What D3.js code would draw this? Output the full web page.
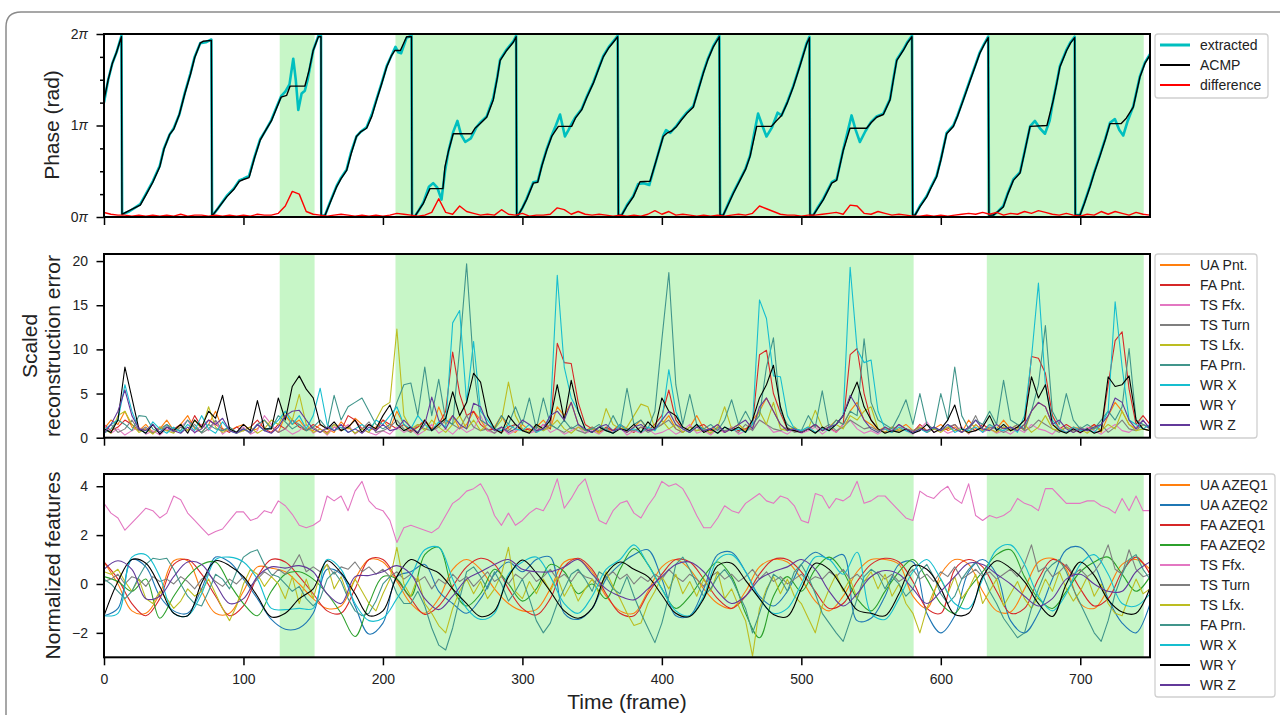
<!DOCTYPE html>
<html>
<head>
<meta charset="utf-8">
<script src="https://cdn.jsdelivr.net/npm/d3@7"></script>
<style>
  body { margin: 0; background: #fff; }
  text { font-family: "Liberation Sans", Arial, sans-serif; fill: #222; }
</style>
</head>
<body>
<div id="app"></div>
<script>
// ---- data ----
let xTicks = [0, 100, 200, 300, 400, 500, 600, 700];
let shadedSpans = [[126, 151], [209, 580.5], [633, 745.5]];

// phase in units of pi, [frame, phase]
let acmpPhase = [[0,1.28],[3,1.5],[6,1.68],[9,1.8],[12.5,1.97],[12.9,0.03],[18,0.07],[22,0.1],[26,0.13],[30,0.24],[35,0.38],[40,0.55],[43,0.74],[47,0.9],[50,0.96],[54,1.12],[58,1.35],[62,1.56],[65,1.74],[69,1.9],[71,1.92],[77,1.93],[77.4,0.01],
  [82,0.1],[88,0.22],[93,0.3],[97,0.39],[100,0.41],[104,0.43],[108,0.65],[112,0.84],[116,0.95],[120,1.05],[124,1.2],[127,1.31],[131,1.33],[133.4,1.43],[144,1.43],[147,1.6],[150,1.82],[153.7,1.97],[155.6,1.97],[155.7,0.01],
  [158.5,0.02],[162,0.15],[166.8,0.33],[170,0.42],[174,0.51],[177,0.68],[181,0.88],[184,0.93],[188.3,0.97],[192,1.1],[195.5,1.28],[199,1.45],[202.7,1.64],[206,1.76],[208.6,1.82],[212.5,1.82],[217,1.97],[220.5,1.97],[220.8,0.0],
  [223,0.01],[226,0.08],[229,0.15],[233.7,0.31],[243,0.31],[244.5,0.55],[247,0.72],[250.4,0.91],[263.6,0.91],[266,0.97],[269.6,1.02],[274.4,1.09],[279.1,1.28],[282,1.52],[284,1.71],[288.7,1.82],[293.5,1.91],[295.5,1.97],[295.9,0.02],
  [297,0.02],[300,0.1],[303,0.19],[307.8,0.37],[311,0.38],[314,0.56],[317.4,0.73],[321,0.88],[325.8,0.99],[335.3,0.99],[338,1.08],[342.5,1.17],[346,1.3],[350.8,1.46],[355,1.63],[358,1.75],[362,1.85],[365.2,1.91],[368.3,1.97],[368.8,0.02],
  [371.2,0.02],[375,0.12],[379.5,0.22],[384.3,0.385],[391.5,0.39],[396,0.62],[401,0.88],[404,0.92],[407,0.94],[410.6,0.99],[414,1.06],[417.8,1.13],[422.5,1.2],[426,1.38],[429.7,1.57],[433,1.72],[436.9,1.86],[441.2,1.97],[441.7,0.02],
  [444,0.02],[448,0.15],[451.3,0.26],[456,0.4],[460,0.52],[463.2,0.66],[468,0.99],[478.6,0.99],[482,1.05],[485.8,1.11],[490,1.25],[494.2,1.42],[499,1.65],[503.8,1.89],[505.8,1.96],[506.2,0.02],
  [508.6,0.02],[512,0.1],[515.8,0.19],[521.8,0.37],[525.3,0.4],[530.1,0.73],[534.9,0.97],[546.8,0.97],[550,1.03],[554,1.09],[558.8,1.12],[563.6,1.28],[566,1.5],[568.4,1.71],[573.1,1.82],[576,1.9],[579.3,1.97],[579.8,0.02],
  [581.5,0.02],[585,0.11],[589.9,0.22],[593,0.32],[597,0.44],[600,0.62],[604.2,0.91],[609,0.99],[612,1.1],[616.2,1.28],[621,1.49],[625,1.66],[628,1.79],[631,1.88],[634,1.96],[634.5,0.02],
  [637.6,0.02],[641,0.06],[644.8,0.11],[648,0.25],[652,0.4],[656.8,0.48],[660,0.7],[664,0.99],[676.1,1.0],[680.7,1.28],[683,1.45],[685.4,1.64],[690.2,1.82],[693,1.9],[696,1.96],[696.4,0.02],
  [699.8,0.02],[703,0.15],[707,0.33],[710,0.48],[714,0.66],[718,0.85],[721.3,1.02],[729.2,1.02],[733,1.08],[738,1.2],[742.8,1.53],[746.4,1.68],[750,1.77]];

let extractedPhase = [[0,1.25],[3,1.5],[6,1.68],[9,1.8],[12.5,1.98],[13,0.03],[18,0.06],[22,0.1],[26,0.14],[30,0.25],[35,0.39],[40,0.56],[43,0.75],[47,0.9],[50,0.97],[54,1.12],[58,1.36],[62,1.57],[65,1.75],[69,1.9],[73,1.91],[77,1.94],[77.5,0.01],
  [82,0.1],[88,0.23],[93,0.31],[97,0.4],[100,0.42],[104,0.45],[108,0.66],[112,0.85],[116,0.95],[120,1.06],[124,1.21],[127,1.32],[130,1.37],[133,1.45],[135.7,1.73],[137.5,1.5],[139.3,1.17],[141.7,1.35],[144,1.38],[146,1.5],[150,1.82],[153.7,1.98],[155.6,1.98],[155.8,0.01],
  [158.5,0.02],[162,0.16],[166.8,0.34],[170,0.43],[174,0.52],[177,0.7],[181,0.88],[184,0.93],[188.3,0.98],[192,1.12],[195.5,1.29],[199,1.46],[202.7,1.65],[206,1.76],[209,1.86],[211,1.8],[213,1.79],[217,1.96],[220.5,1.98],[220.9,0.0],
  [223,0.01],[226,0.08],[229,0.16],[233,0.33],[236,0.37],[239,0.32],[242,0.19],[244.5,0.5],[247,0.72],[250.4,0.93],[253.4,1.05],[256,0.9],[259,0.82],[263,0.86],[267,0.98],[269.6,1.03],[274.4,1.1],[279.1,1.3],[282,1.53],[284,1.72],[288.7,1.83],[293.5,1.92],[295.5,1.98],[296,0.02],
  [297,0.02],[300,0.1],[303,0.2],[307.8,0.38],[311,0.39],[314,0.57],[317.4,0.74],[321,0.89],[324,1.0],[327,1.12],[330.5,0.88],[333,0.95],[336,1.04],[338,1.09],[342.5,1.18],[346,1.31],[350.8,1.47],[355,1.64],[358,1.76],[362,1.86],[365.2,1.92],[368.3,1.98],[368.9,0.02],
  [371.2,0.02],[375,0.13],[379.5,0.23],[383,0.36],[387,0.37],[391,0.35],[396,0.62],[401,0.89],[403,0.95],[406,0.92],[410.6,1.0],[414,1.07],[417.8,1.14],[422.5,1.21],[426,1.39],[429.7,1.58],[433,1.73],[436.9,1.87],[441.2,1.98],[441.8,0.02],
  [444,0.02],[448,0.16],[451.3,0.27],[456,0.41],[460,0.53],[463.2,0.67],[466,0.9],[469,1.13],[472,1.0],[475,0.88],[479,0.98],[483,1.14],[485.8,1.11],[490,1.26],[494.2,1.43],[499,1.66],[503.8,1.9],[505.8,1.97],[506.3,0.02],
  [508.6,0.02],[512,0.11],[515.8,0.2],[521.8,0.38],[525.3,0.41],[530.1,0.74],[533,0.92],[536,1.11],[539,0.95],[542,0.82],[546,0.94],[550,1.04],[554,1.1],[558.8,1.13],[563.6,1.29],[566,1.51],[568.4,1.72],[573.1,1.83],[576,1.91],[579.3,1.98],[579.9,0.02],
  [581.5,0.02],[585,0.12],[589.9,0.23],[593,0.33],[597,0.45],[600,0.63],[604.2,0.92],[609,1.0],[612,1.11],[616.2,1.29],[621,1.5],[625,1.67],[628,1.8],[631,1.89],[634,1.97],[634.6,0.02],
  [637.6,0.02],[641,0.06],[644.8,0.12],[648,0.26],[652,0.41],[656.8,0.49],[660,0.71],[664,0.99],[667.5,1.05],[671,0.97],[674.7,0.91],[678,1.05],[680.7,1.29],[683,1.46],[685.4,1.65],[690.2,1.83],[693,1.91],[696,1.97],[696.5,0.02],
  [699.8,0.02],[703,0.16],[707,0.34],[710,0.49],[714,0.67],[718,0.86],[721.3,1.03],[724.8,1.07],[728,0.95],[730.8,0.89],[734,1.05],[738,1.21],[742.8,1.54],[746.4,1.69],[750,1.78]];

// every 5 frames, units of pi
let phaseDiff = [0.05,0.03,0.02,0.02,0.01,0.02,0.01,0.02,0.01,0.02, 0.01,0.03,0.01,0.02,0.02,0.01,0.02,0.01,0.02,0.01,
  0.02,0.01,0.03,0.02,0.02,0.04,0.12,0.28,0.25,0.06, 0.03,0.02,0.01,0.02,0.03,0.02,0.01,0.02,0.01,0.02,
  0.01,0.02,0.04,0.03,0.02,0.01,0.02,0.05,0.2,0.05, 0.03,0.12,0.06,0.04,0.02,0.03,0.02,0.08,0.03,0.02,
  0.04,0.01,0.02,0.02,0.03,0.1,0.08,0.03,0.06,0.03, 0.02,0.03,0.02,0.01,0.02,0.01,0.02,0.01,0.03,0.07,
  0.03,0.06,0.02,0.03,0.02,0.01,0.02,0.01,0.02,0.01, 0.02,0.03,0.02,0.04,0.12,0.09,0.06,0.03,0.02,0.02,
  0.01,0.02,0.02,0.03,0.04,0.05,0.03,0.13,0.12,0.04, 0.03,0.06,0.04,0.02,0.03,0.02,0.01,0.01,0.02,0.01,
  0.02,0.01,0.02,0.03,0.04,0.03,0.05,0.03,0.05,0.02, 0.04,0.03,0.06,0.04,0.07,0.05,0.03,0.02,0.04,0.02,
  0.01,0.03,0.02,0.06,0.03,0.06,0.04,0.02,0.05,0.03, 0.02];

// scaled reconstruction error, every 5 frames
let errUAPnt = [1.0,2.0,1.5,3.0,1.2,0.8,1.5,0.6,1.0,2.0, 0.8,1.5,2.5,1.0,0.6,1.5,3.0,1.0,0.8,1.2,
  1.5,0.8,1.0,2.0,1.2,0.6,2.5,1.5,2.0,1.0, 0.8,1.5,1.0,0.6,1.8,1.0,2.2,1.5,0.8,1.2,
  2.0,1.0,3.0,1.5,0.6,1.2,2.0,0.8,3.5,1.5, 2.5,1.0,1.5,3.0,2.0,0.8,1.2,2.5,1.0,0.6,
  1.5,0.8,1.2,2.0,1.0,3.5,2.5,4.0,1.5,0.8, 1.2,0.6,1.0,0.8,1.5,0.6,1.2,2.0,0.8,1.0,
  1.5,2.5,1.0,0.6,1.2,2.5,1.0,0.8,1.5,0.6, 1.0,1.5,0.8,2.0,3.0,4.5,3.0,1.5,0.8,1.2,
  0.6,1.0,1.5,0.8,1.2,2.0,1.5,3.0,4.0,2.0, 1.5,0.8,1.2,0.6,1.0,1.5,0.8,1.2,0.6,1.0,
  1.5,0.8,1.2,0.6,2.0,1.0,0.8,1.5,1.0,2.0, 1.0,1.5,0.8,3.0,4.0,3.5,1.5,1.0,0.6,1.2,
  1.0,0.8,1.5,0.6,2.5,4.0,3.0,1.5,1.0,1.5, 1.0];
let errFAPnt = [1.5,0.8,1.2,2.0,1.5,0.8,1.0,0.5,1.2,0.8, 1.0,1.5,0.8,2.5,1.2,2.0,1.5,1.0,0.6,1.2,
  0.8,1.2,2.0,1.0,0.6,1.5,1.0,2.0,1.2,0.8, 1.5,1.0,0.6,1.2,0.8,2.5,2.0,1.0,1.5,0.8,
  2.0,1.5,1.0,1.5,0.8,1.2,2.0,1.0,1.5,3.0, 9.7,5.0,2.5,3.0,1.5,0.8,1.0,0.6,1.2,1.5,
  0.8,1.0,0.6,1.5,1.0,10.7,8.5,8.4,4.0,1.5, 1.0,0.6,1.2,0.8,1.5,1.0,0.6,1.2,0.8,1.5,
  2.5,5.4,2.0,1.0,0.6,1.2,1.5,0.8,1.0,0.6, 1.2,0.8,1.0,1.5,9.4,9.9,5.0,2.8,1.0,0.8,
  0.6,1.0,1.5,0.8,1.2,0.6,1.5,9.4,10.1,5.0, 2.0,1.0,0.6,1.2,0.8,1.0,0.6,1.5,0.8,1.2,
  0.8,1.0,1.5,0.6,1.2,0.8,1.5,1.0,0.6,1.2, 0.8,1.2,1.0,9.2,9.0,7.3,2.5,1.0,1.5,1.0,
  0.8,1.0,1.5,0.8,6.0,11.0,12.0,5.5,1.5,2.5, 1.5];
let errTSFfx = [1.5,0.5,1.0,0.3,0.8,1.2,0.4,0.8,0.3,1.0, 0.6,1.2,2.0,0.5,1.5,0.8,1.8,0.4,1.0,0.6,
  1.2,0.4,0.8,2.5,1.5,0.6,1.0,0.4,0.8,1.5, 0.5,1.0,0.3,1.2,0.8,1.5,0.4,1.0,0.6,0.3,
  0.8,0.4,1.2,0.6,1.0,0.3,0.8,1.5,0.5,1.0, 0.4,1.2,0.6,1.0,2.5,0.8,0.5,1.2,0.4,0.8,
  1.0,0.5,0.8,1.5,0.6,1.0,0.4,0.8,1.2,0.5, 0.8,0.4,1.0,0.6,1.2,0.3,0.8,0.5,1.0,0.4,
  0.6,1.0,0.4,0.8,1.5,0.5,0.8,0.3,1.0,0.6, 1.2,0.4,0.8,1.0,2.0,1.5,0.6,0.8,0.4,1.0,
  0.5,0.8,1.2,0.4,1.0,0.6,1.5,2.0,1.0,0.5, 0.8,0.4,1.0,0.6,1.5,0.8,0.4,1.0,1.8,0.6,
  1.0,0.5,0.8,1.2,0.4,1.5,0.6,1.0,0.5,0.8, 0.4,1.0,0.6,1.5,1.0,0.8,0.4,1.2,0.6,1.0,
  0.5,1.2,0.8,0.4,1.0,1.5,0.8,0.6,1.2,2.0, 1.0];
let errTSTurn = [0.8,1.5,0.6,1.0,2.0,0.8,1.2,0.5,1.0,1.5, 0.6,1.2,0.8,1.5,0.5,1.0,2.0,0.8,1.2,0.6,
  1.0,0.5,1.5,0.8,1.2,0.6,1.0,2.0,1.5,0.8, 1.2,0.6,1.0,1.5,0.8,1.2,0.5,1.0,1.8,0.6,
  0.8,1.2,2.0,1.0,0.6,1.5,1.0,0.8,1.2,2.0, 1.5,1.0,2.5,1.2,0.8,1.0,0.5,1.2,0.8,1.5,
  1.0,0.6,1.2,0.8,1.5,1.0,0.6,1.2,0.8,0.5, 1.2,0.8,1.0,0.5,1.5,1.0,0.8,1.2,0.6,1.0,
  1.5,2.0,1.0,0.6,1.2,0.8,1.0,0.5,1.2,0.8, 1.0,0.6,1.5,0.8,2.0,1.5,1.0,0.8,1.2,0.6,
  0.8,1.2,0.6,1.0,1.5,0.8,1.2,2.0,1.5,1.0, 1.2,0.8,1.0,0.6,1.5,1.0,0.8,1.2,0.6,1.0,
  0.8,1.2,1.5,0.6,1.0,2.5,0.8,1.2,1.0,0.6, 1.0,1.5,0.8,1.2,2.0,1.5,1.0,0.6,1.2,0.8,
  1.2,0.8,1.0,1.5,0.6,1.2,2.0,1.0,0.8,1.5, 1.2];
let errTSLfx = [1.0,0.5,2.5,3.0,1.5,0.6,1.0,0.4,1.2,0.8, 0.5,1.5,0.8,2.0,1.0,3.5,1.2,0.6,1.0,0.5,
  0.8,1.2,0.5,1.0,2.0,1.5,3.0,2.0,4.9,1.5, 0.6,1.0,0.4,1.5,0.8,1.2,0.5,1.0,0.6,2.0,
  3.5,4.0,12.3,2.5,1.0,1.5,0.8,2.0,1.2,0.6, 1.5,2.5,1.0,2.0,0.8,1.5,1.0,2.0,6.3,2.5,
  1.0,0.6,1.5,0.8,1.2,2.0,1.0,0.5,1.2,0.8, 1.0,0.5,3.3,1.5,1.0,1.2,2.5,3.8,3.5,1.0,
  2.0,1.0,1.5,0.6,1.2,0.8,1.0,0.5,1.2,3.5, 1.0,1.5,0.8,1.2,3.0,1.5,4.0,1.0,0.8,1.2,
  0.6,1.0,3.1,1.2,0.8,1.5,1.0,2.5,2.0,3.0, 3.5,1.0,0.6,1.2,0.8,1.0,0.5,1.2,0.8,1.0,
  0.6,1.2,0.8,1.0,0.5,1.5,0.8,1.0,0.6,1.2, 0.8,1.0,1.5,0.6,1.2,2.5,1.0,0.8,1.2,0.6,
  1.0,0.5,1.2,0.8,1.5,1.0,3.0,1.5,0.8,1.0, 0.8];
let errFAPrn = [0.5,1.0,2.0,1.5,0.8,2.5,2.4,1.0,0.6,1.5, 1.0,0.8,2.0,1.2,0.6,1.5,1.0,0.8,1.2,0.6,
  1.0,0.6,1.5,2.0,1.0,2.5,1.8,1.0,1.5,0.8, 1.2,2.0,1.0,4.8,2.0,3.5,4.0,4.5,3.0,1.5,
  1.0,1.5,4.0,6.0,6.2,2.5,8.0,2.5,6.6,2.0, 1.5,10.0,19.7,8.0,2.0,1.5,1.0,2.5,1.5,3.5,
  1.5,4.5,1.0,4.5,1.5,1.0,2.0,1.0,1.5,0.8, 1.0,1.5,0.8,2.5,1.0,5.6,1.5,2.0,1.0,3.0,
  11.1,18.7,6.0,1.5,4.9,1.5,1.0,1.5,0.8,2.0, 4.3,1.5,3.0,1.5,2.5,8.0,11.3,3.0,1.5,1.0,
  0.8,2.5,1.2,5.3,1.0,2.0,1.5,3.0,2.5,11.2, 4.0,2.0,1.5,1.0,2.5,4.3,1.5,5.0,1.5,1.0,
  5.0,2.0,8.0,2.5,1.0,2.0,1.5,3.0,1.5,6.5, 2.0,1.5,1.0,3.0,6.0,12.7,3.0,1.5,5.0,2.0,
  1.0,1.5,1.0,2.0,3.0,2.0,3.5,10.1,2.0,1.5, 1.0];
let errWRX = [0.8,1.5,2.0,6.0,3.0,1.0,0.5,1.8,1.0,0.5, 1.2,0.6,1.5,0.8,2.5,1.0,0.5,1.8,0.8,0.5,
  1.0,0.6,1.5,0.8,1.2,2.0,3.0,1.5,2.5,1.0, 2.5,5.6,1.5,0.8,1.2,0.6,1.0,1.5,0.8,2.0,
  1.5,2.5,3.5,1.5,1.0,2.5,1.5,0.8,1.8,1.2, 13.0,14.4,4.0,10.9,3.0,2.0,1.0,0.8,1.5,1.0,
  0.8,1.5,0.6,1.0,2.5,18.4,8.0,4.5,3.0,1.0, 0.6,1.2,0.8,0.5,1.5,0.8,1.0,0.6,1.2,0.8,
  2.0,7.7,3.0,1.0,0.6,1.5,0.8,1.0,0.5,1.2, 0.8,1.0,0.6,1.5,15.6,13.5,7.0,6.9,2.5,1.0,
  0.8,1.2,0.6,1.0,0.8,1.5,2.5,19.3,10.0,8.5, 8.8,3.0,1.0,0.6,1.2,0.8,0.5,1.0,0.6,1.2,
  0.8,1.5,0.6,1.0,0.8,1.2,0.6,1.5,1.0,0.8, 1.2,0.6,2.5,9.0,17.5,6.0,2.0,1.0,0.6,1.2,
  0.8,1.0,0.6,1.5,3.0,15.4,8.0,2.0,1.5,1.0, 1.5];
let errWRY = [1.0,0.6,2.0,8.0,4.5,1.0,0.5,1.5,0.4,1.2, 0.8,1.5,0.5,2.0,1.2,3.0,2.2,4.8,1.0,0.6,
  1.5,0.8,4.2,1.0,1.0,4.5,2.0,5.8,7.0,5.5, 4.5,1.5,1.0,1.8,0.8,1.2,2.0,0.6,1.5,1.0,
  2.5,3.7,1.5,0.8,1.2,0.5,2.0,0.8,1.5,2.2, 5.2,2.5,4.0,7.3,6.3,2.5,1.0,0.5,2.5,1.5,
  0.8,0.5,1.5,1.0,2.0,6.0,2.0,6.5,3.0,1.0, 0.6,1.2,0.8,0.5,1.0,0.8,1.5,0.6,1.8,1.0,
  4.5,3.0,2.5,1.2,0.8,1.5,0.6,1.0,0.5,1.2, 0.8,1.2,0.6,2.0,4.5,6.0,8.2,3.5,1.0,0.8,
  0.6,1.0,0.5,1.2,0.8,1.5,2.5,4.5,6.3,3.5, 2.0,1.0,0.5,0.8,0.6,1.0,0.5,0.8,1.5,0.6,
  1.0,2.0,3.7,1.0,0.6,0.8,1.2,2.5,0.8,1.5, 0.8,1.2,2.0,6.9,4.5,6.0,1.5,0.8,0.5,1.0,
  0.6,1.0,0.5,0.8,6.9,5.8,6.0,7.0,2.0,1.0, 0.8];
let errWRZ = [0.5,1.5,3.0,5.4,2.5,1.0,0.8,1.5,0.6,1.2, 0.8,0.5,1.2,0.6,1.0,2.0,1.5,2.2,0.8,0.5,
  1.0,0.6,1.5,0.8,0.5,1.2,2.5,3.0,3.1,2.0, 1.0,0.6,1.2,0.8,1.5,0.6,1.0,0.5,1.2,0.8,
  1.5,0.8,1.0,2.0,1.2,0.6,1.5,4.6,2.0,1.0, 2.5,1.5,1.0,3.9,3.5,1.5,0.8,1.2,0.6,1.0,
  2.0,1.5,0.8,1.0,2.5,3.0,2.0,4.0,1.5,1.0, 0.6,1.2,1.5,0.8,1.0,0.6,1.2,1.5,0.8,1.0,
  2.0,3.0,1.5,1.0,0.6,1.2,0.8,1.0,1.5,0.6, 1.0,1.5,2.0,1.0,3.5,4.5,3.0,1.5,0.8,1.0,
  0.6,1.0,1.5,0.8,1.2,1.5,2.5,4.8,3.5,2.0, 1.0,0.6,1.2,0.8,1.5,1.0,0.6,1.0,0.8,1.2,
  0.8,1.5,1.0,0.6,1.2,2.0,1.0,0.8,1.5,1.0, 1.2,0.8,1.5,3.0,4.0,3.5,1.5,2.0,1.0,0.6,
  1.0,0.8,1.2,1.5,2.5,4.5,4.0,2.0,1.0,2.0, 1.0];

// normalized features; smooth ones every 10 frames, noisy ones every 5 frames
let featUAAZEQ1 = [0.9,0.0,-1.1,-1.2,-0.4,0.95,0.95,-0.3,-1.2,-1.2, -0.3,0.7,0.65,0.5,0.0,-0.6,-1.0,-0.9,0.2,1.0,
  0.9,0.1,-0.8,-1.2,-0.6,0.6,1.0,0.6,-0.2,-0.8, -1.1,-1.05,-0.2,0.9,1.0,0.5,-0.5,-1.1,-1.2,-0.3,
  0.7,1.0,0.6,-0.2,-0.8,-1.0,-0.3,0.7,1.0,0.9, 0.2,-0.7,-1.1,-0.5,0.5,1.0,1.0,0.8,-0.5,-1.0,
  0.4,1.0,0.8,-0.3,-1.1,-1.15,-0.2,0.9,1.05,0.6, -0.8,-1.0,-0.2,0.8,1.0,0.6];
let featUAAZEQ2 = [-1.3,-1.0,1.0,0.7,-0.5,-1.1,-1.2,-0.2,1.1,0.9, 0.2,-0.6,-1.45,-1.85,-1.8,-1.2,0.6,0.4,-0.9,-2.05,
  -1.6,0.3,0.5,0.8,-0.3,-0.8,-1.2,-0.6,0.4,0.9, 0.5,1.0,1.1,-1.2,-1.45,-1.0,0.2,0.8,1.2,1.4,
  0.2,-1.3,-1.3,-0.2,1.2,1.3,0.5,-0.5,-0.9,-0.3, 0.8,1.3,1.0,1.2,-1.5,-1.4,-0.5,0.8,0.9,-1.2,
  -2.0,-1.3,0.5,1.0,0.4,-1.5,-2.0,-1.2,0.2,1.4, 1.5,0.8,-0.6,-1.6,-2.0,-0.8];
let featFAAZEQ1 = [0.9,0.2,-0.8,-1.3,-0.6,0.8,1.0,0.4,-0.5,-1.3, -0.9,0.3,1.0,0.9,0.3,-0.4,-1.1,-1.2,-0.2,1.0,
  1.0,0.2,-0.6,-1.25,-0.9,-0.1,0.7,1.05,0.8,-0.2, -1.0,-1.27,-0.6,0.7,1.05,0.6,-0.4,-1.2,-1.3,-0.4,
  0.4,1.0,0.9,0.2,-0.6,-1.0,-0.5,0.4,1.0,1.0, 0.5,-0.3,-1.0,-0.8,0.1,0.8,1.05,0.9,0.1,-1.0,
  -1.2,0.6,1.0,0.7,-0.3,-1.2,-1.0,0.2,1.0,0.7, -0.2,-0.9,-0.6,0.5,1.1,0.4];
let featFAAZEQ2 = [0.3,0.1,-0.3,0.2,-1.4,-0.5,0.3,0.8,0.9,0.0, -0.8,-1.3,-0.3,0.4,0.5,0.2,-0.4,-1.2,-2.15,-0.8,
  0.3,0.2,-0.5,1.2,1.5,-0.2,-0.9,-0.4,0.6,0.0, -0.7,-0.2,0.8,0.5,-0.4,0.0,-0.6,0.6,1.45,0.8,
  -0.2,-1.0,-0.5,0.3,0.9,0.3,-1.2,-2.2,-0.5,0.3, -0.3,0.6,1.1,0.5,-0.6,-1.1,-0.3,0.5,1.0,0.2,
  -0.8,-1.2,-0.2,0.5,1.2,1.4,0.3,-0.6,-1.0,-0.3, 0.5,0.9,1.1,0.4,-0.3,0.3];
let featTSFfx = [3.3,2.9,2.7,2.2,2.5,2.8,3.1,3.0,2.7,2.9, 3.6,3.45,2.9,2.6,2.3,2.0,2.15,2.25,2.6,2.95,
  2.95,2.6,2.7,3.0,2.9,3.4,3.2,2.85,2.4,2.3, 2.4,2.6,3.6,3.4,3.6,3.0,3.8,4.2,3.4,3.1,
  3.0,2.6,1.7,2.3,2.4,2.3,2.2,2.1,2.3,2.8, 3.3,3.5,3.8,3.9,4.1,3.6,2.8,2.4,2.9,2.4,
  2.6,2.9,3.1,3.0,3.5,4.3,3.1,3.5,4.0,4.3, 3.4,2.6,2.45,3.0,3.3,3.4,2.9,2.7,3.2,3.6,
  4.2,4.0,4.1,3.9,3.4,2.8,2.3,2.3,2.7,3.2, 3.0,2.9,3.3,3.5,3.7,3.4,3.3,3.6,3.5,3.2,
  2.6,2.5,3.7,3.6,3.1,3.5,3.4,3.6,4.2,3.3, 3.4,3.6,3.6,3.3,3.0,2.7,2.6,3.8,3.6,3.5,
  3.8,4.0,3.5,3.3,4.1,2.8,2.6,2.8,2.7,2.8, 3.0,3.5,3.3,3.2,3.0,3.9,3.9,3.6,3.3,3.3,
  3.3,3.4,3.4,3.2,3.1,2.9,3.5,3.0,3.6,3.0, 3.0];
let featTSTurn = [0.1,0.2,0.4,0.0,0.3,0.2,-0.1,0.3,0.1,0.2, 0.0,0.3,0.1,-0.2,0.2,0.4,0.1,-0.1,0.2,0.0,
  0.3,-0.1,0.2,0.5,0.3,0.6,0.4,0.7,1.2,0.5, 0.7,0.5,0.8,0.4,0.7,0.6,0.9,0.5,0.7,0.4,
  0.6,0.3,0.5,0.2,0.4,0.1,0.3,-0.2,0.2,0.0, 0.4,0.1,0.3,-0.1,0.2,0.5,0.1,0.3,0.0,0.4,
  0.2,0.5,0.1,0.3,0.6,0.2,0.4,0.1,0.5,0.3, 0.2,-0.1,0.3,0.5,0.2,0.4,0.0,0.3,0.1,0.4,
  0.2,0.6,0.3,0.1,0.4,0.2,-0.1,0.3,0.5,0.2, 0.4,0.1,0.3,0.6,0.2,0.5,0.1,0.3,0.0,0.2,
  0.4,0.1,0.3,0.2,0.5,0.3,0.6,0.2,0.4,0.1, 0.3,0.5,0.2,0.4,0.1,0.3,0.6,0.2,0.4,0.1,
  0.5,0.3,0.7,0.2,0.4,0.6,0.3,0.5,0.2,0.4, 0.6,0.3,0.8,1.6,0.5,0.7,0.3,0.5,0.8,0.4,
  0.6,0.3,0.5,0.9,1.6,0.6,0.4,1.4,0.6,0.3, 0.4];
let featTSLfx = [0.5,0.4,0.6,0.1,-0.3,0.2,-0.6,-0.8,-0.3,-0.6, -1.0,-0.7,-0.2,-0.5,-0.3,0.2,-0.4,-1.0,-1.5,-0.9,
  0.0,0.6,0.4,-0.1,0.3,0.0,-0.6,0.3,-0.8,0.2, -0.6,0.4,0.8,-0.2,0.3,-0.5,0.2,-0.3,-0.8,-1.1,
  -0.4,0.2,1.5,0.0,-0.5,0.3,-0.8,-1.2,-1.7,-2.0, -1.0,-0.3,0.2,-0.4,0.1,-0.6,-0.2,0.4,1.5,-0.3,
  -0.6,0.1,-0.4,0.2,-0.3,0.3,-0.5,0.0,-0.7,-0.2, 0.2,-0.4,0.5,-0.1,-0.6,-1.2,-1.7,-1.6,-0.8,-0.3,
  0.3,-0.2,0.4,-0.4,0.1,-0.5,0.2,-0.3,0.5,-0.6, -0.2,-0.9,-1.5,-2.95,-1.0,-0.2,0.3,-0.4,0.2,-0.5,
  -0.8,-1.4,-2.0,-0.9,-0.2,0.4,-0.3,0.2,-0.6,0.1, 0.5,-0.2,0.4,-0.5,0.0,-0.8,-1.2,-2.0,-1.0,-0.3,
  0.2,-0.4,0.3,-0.6,-0.2,0.4,-0.8,-0.3,0.2,-0.9, -0.4,0.1,-0.6,-1.0,-0.5,0.2,-0.3,0.5,-0.2,-0.7,
  -0.3,0.3,-0.5,0.0,-0.8,-1.2,-1.3,-0.5,0.2,-0.4, -0.2];
let featFAPrn = [0.2,0.0,-0.3,-0.6,-0.3,0.3,0.8,1.05,1.0,1.05, 0.6,0.0,-0.5,-0.8,-0.9,-0.3,0.4,0.2,-0.2,0.5,
  1.1,1.3,1.4,0.8,0.4,0.3,0.0,-0.3,-0.1,-0.6, -0.9,-0.6,0.2,0.5,0.1,-0.6,-1.1,-1.3,-1.2,-0.7,
  0.0,0.3,-0.4,-0.8,-0.8,-0.3,-0.9,-1.8,-2.5,-2.7, -1.8,-0.6,0.5,0.7,0.3,-0.2,0.5,0.0,-0.7,-0.3,
  0.2,-0.6,-1.5,-2.0,-1.6,-0.8,-0.2,0.4,0.6,0.2, -0.3,0.5,0.3,-0.2,-0.4,0.3,-0.5,-1.2,-1.8,-2.4,
  -1.6,-0.5,0.8,1.1,0.6,0.0,-0.5,-0.2,0.3,0.6, 0.2,-0.4,-1.0,-2.0,-1.2,-0.3,0.4,0.2,-0.3,0.5,
  0.8,0.3,-0.4,-1.2,-1.6,-2.0,-2.35,-1.5,-0.6,0.3, 0.6,0.4,-0.2,0.3,0.0,-0.5,-0.2,0.5,0.8,0.3,
  -0.4,-0.8,-0.5,0.2,0.6,0.9,0.4,-0.3,-0.8,-1.4, -1.8,-2.2,-2.0,-1.0,-0.2,0.5,0.8,1.0,0.5,-0.2,
  -0.8,-1.4,-2.0,-2.35,-1.5,-0.4,0.4,1.0,1.2,0.6, 0.2];
let featWRX = [-1.3,-1.2,1.1,1.2,0.3,-1.2,-1.3,-0.4,1.0,1.1, 0.9,0.2,-1.0,-1.05,-1.0,-1.0,1.0,0.6,-0.8,-1.5,
  -1.4,-0.6,0.3,1.4,1.5,0.2,-1.0,-1.45,-1.2,0.4, 0.9,1.1,0.3,-0.8,-1.2,-0.5,0.6,1.0,1.6,0.8,
  -0.2,-1.1,-1.3,-0.5,1.0,1.2,0.5,-0.6,-1.2,-1.0, 0.0,1.1,1.0,0.4,1.3,-1.2,-1.45,-0.6,0.5,1.0,
  0.2,-0.8,-1.0,0.2,1.4,1.6,0.8,-0.5,-1.1,-0.4, 0.8,1.2,0.4,-0.8,-0.9,-0.4];
let featWRY = [-1.3,0.1,1.0,0.85,-0.1,-1.2,-1.3,0.05,0.95,0.75, 0.3,-0.5,-1.35,-1.2,-0.6,-0.2,0.95,0.45,-0.4,-1.3,
  -1.1,0.3,1.0,0.7,0.45,-0.2,-0.8,-1.33,-1.1,0.3, 0.98,0.45,-0.3,-1.1,-1.4,-1.0,0.4,0.9,0.6,0.3,
  -0.45,-1.2,-1.33,-0.6,0.75,0.85,0.15,-0.6,-1.25,-1.33, -0.2,0.85,0.6,-0.2,-1.06,-1.2,-1.3,-0.4,0.75,0.6,
  -0.2,-1.25,-1.2,0.3,0.95,0.65,0.1,-0.8,-1.33,0.0, 0.9,0.35,-0.65,-1.15,-1.2,-0.15];
let featWRZ = [0.6,0.95,0.6,-0.6,-0.5,0.3,0.9,0.8,0.0,-0.8, -0.6,0.3,0.7,0.65,0.75,0.5,-0.4,-0.8,0.3,0.35,
  0.5,0.75,0.4,-0.6,-1.05,-0.5,0.2,0.5,0.8,1.0, 0.6,0.5,0.5,0.7,1.0,0.4,-0.2,-0.5,-0.65,-0.2,
  0.3,0.8,0.9,0.5,-0.3,-0.8,-0.5,0.2,0.5,0.7, 1.0,0.6,-0.3,-0.9,-0.4,0.3,0.55,0.4,-0.2,-0.8,
  -0.3,0.3,0.85,0.8,0.4,0.0,-0.5,-0.9,-0.6,0.2, 0.4,0.0,-0.3,-0.3,0.5,0.9];

let phaseSeries = [
  {name: 'extracted', pts: extractedPhase, color: '#00bfbf', width: 2.6},
  {name: 'ACMP', pts: acmpPhase, color: '#000', width: 1.4},
  {name: 'difference', pts: phaseDiff.map((v, i) => [i * 5, v]), color: '#ff0000', width: 1.4}
];
let errSeries = [
  {name: 'UA Pnt.', vals: errUAPnt, color: '#ff7f0e'},
  {name: 'FA Pnt.', vals: errFAPnt, color: '#d62728'},
  {name: 'TS Ffx.', vals: errTSFfx, color: '#e377c2'},
  {name: 'TS Turn', vals: errTSTurn, color: '#7f7f7f'},
  {name: 'TS Lfx.', vals: errTSLfx, color: '#bcbd22'},
  {name: 'FA Prn.', vals: errFAPrn, color: '#41958b'},
  {name: 'WR X', vals: errWRX, color: '#17becf'},
  {name: 'WR Y', vals: errWRY, color: '#000000'},
  {name: 'WR Z', vals: errWRZ, color: '#62399a'}
];
let featSeries = [
  {name: 'UA AZEQ1', vals: featUAAZEQ1, step: 10, color: '#ff7f0e'},
  {name: 'UA AZEQ2', vals: featUAAZEQ2, step: 10, color: '#1f77b4'},
  {name: 'FA AZEQ1', vals: featFAAZEQ1, step: 10, color: '#d62728'},
  {name: 'FA AZEQ2', vals: featFAAZEQ2, step: 10, color: '#2ca02c'},
  {name: 'TS Ffx.', vals: featTSFfx, step: 5, color: '#e377c2'},
  {name: 'TS Turn', vals: featTSTurn, step: 5, color: '#7f7f7f'},
  {name: 'TS Lfx.', vals: featTSLfx, step: 5, color: '#bcbd22'},
  {name: 'FA Prn.', vals: featFAPrn, step: 5, color: '#41958b'},
  {name: 'WR X', vals: featWRX, step: 10, color: '#17becf'},
  {name: 'WR Y', vals: featWRY, step: 10, color: '#000000'},
  {name: 'WR Z', vals: featWRZ, step: 10, color: '#62399a'}
];

// ---- layout ----
let W = 1280, H = 715;
let svg = d3.select('#app').append('svg').attr('width', W).attr('height', H);

// card outline
svg.append('path')
  .attr('d', 'M6,715 L6,27 Q6,12 21,12 L1280,12')
  .attr('fill', 'none').attr('stroke', '#8a8a8a').attr('stroke-width', 1.5);

let x = d3.scaleLinear().domain([0, 750]).range([104, 1150]);

function panel(id, top, bottom, domain) {
  let y = d3.scaleLinear().domain(domain).range([bottom, top]);
  let g = svg.append('g');
  g.append('clipPath').attr('id', 'clip-' + id)
    .append('rect').attr('x', x(0)).attr('y', top).attr('width', x(750) - x(0)).attr('height', bottom - top);
  g.selectAll('rect.span').data(shadedSpans).enter().append('rect')
    .attr('class', 'span')
    .attr('x', d => x(d[0])).attr('width', d => x(d[1]) - x(d[0]))
    .attr('y', top).attr('height', bottom - top)
    .attr('fill', '#90ee90').attr('fill-opacity', 0.5);
  let plot = g.append('g').attr('clip-path', `url(#clip-${id})`);
  return {g, plot, y, top, bottom};
}

function frame(p) {
  p.g.append('rect')
    .attr('x', x(0)).attr('y', p.top).attr('width', x(750) - x(0)).attr('height', p.bottom - p.top)
    .attr('fill', 'none').attr('stroke', '#000').attr('stroke-width', 2);
}

function styleAxis(a) {
  a.select('.domain').remove();
  a.selectAll('line').attr('stroke', '#000').attr('stroke-width', 1.5);
  a.selectAll('text').style('font-size', '14px').attr('fill', '#222');
}

function xAxis(p, labels) {
  let ax = p.g.append('g').attr('transform', `translate(0,${p.bottom})`)
    .call(d3.axisBottom(x).tickValues(xTicks).tickSize(8).tickPadding(9)
      .tickFormat(labels ? d3.format('d') : ''));
  styleAxis(ax);
}

function yAxis(p, ticks, fmt, minor) {
  if (minor) {
    let am = p.g.append('g').attr('transform', `translate(${x(0)},0)`)
      .call(d3.axisLeft(p.y).tickValues(minor).tickSize(4).tickFormat(''));
    styleAxis(am);
  }
  let ax = p.g.append('g').attr('transform', `translate(${x(0)},0)`)
    .call(d3.axisLeft(p.y).tickValues(ticks).tickSize(7.5).tickPadding(8.5).tickFormat(fmt || d3.format('d')));
  styleAxis(ax);
  return ax;
}

function legend(x0, y0, w, h, items) {
  let lg = svg.append('g');
  lg.append('rect').attr('x', x0).attr('y', y0).attr('width', w).attr('height', h)
    .attr('rx', 3).attr('fill', '#fff').attr('stroke', '#d0d0d0').attr('stroke-width', 1.3);
  items.forEach((d, i) => {
    let cy = y0 + 11 + i * 20;
    lg.append('line').attr('x1', x0 + 5).attr('x2', x0 + 35).attr('y1', cy).attr('y2', cy)
      .attr('stroke', d.color).attr('stroke-width', d.lw || 2);
    lg.append('text').attr('x', x0 + 45).attr('y', cy).attr('dy', '0.36em')
      .style('font-size', '14px').text(d.name);
  });
}

function yLabel(lines, cx, cy) {
  lines.forEach((t, i) => {
    svg.append('text')
      .attr('transform', `translate(${cx[i]},${cy}) rotate(-90)`)
      .attr('text-anchor', 'middle').style('font-size', '21px').text(t);
  });
}

// ---- phase panel ----
let p1 = panel('phase', 34, 217, [0, 2]);
phaseSeries.forEach(s => {
  p1.plot.append('path').datum(s.pts)
    .attr('d', d3.line().x(d => x(d[0])).y(d => p1.y(d[1])))
    .attr('fill', 'none').attr('stroke', s.color).attr('stroke-width', s.width)
    .attr('stroke-linejoin', 'round');
});
frame(p1);
xAxis(p1, false);
let pAx = yAxis(p1, [0, 1, 2], d => d, [0.25, 0.5, 0.75, 1.25, 1.5, 1.75]);
pAx.selectAll('.tick text').each(function(d) {
  let t = d3.select(this).text('');
  t.append('tspan').text(d);
  t.append('tspan').style('font-style', 'italic').text('π');
});
yLabel(['Phase (rad)'], [59], 125);
legend(1155, 34, 113, 64, phaseSeries.map(s => ({name: s.name, color: s.color, lw: s.name === 'extracted' ? 3 : 2})));

// ---- reconstruction error panel ----
let p2 = panel('err', 254, 437.7, [0, 20.8]);
errSeries.forEach(s => {
  p2.plot.append('path').datum(s.vals)
    .attr('d', d3.line().x((d, i) => x(i * 5)).y(d => p2.y(d)))
    .attr('fill', 'none').attr('stroke', s.color).attr('stroke-width', 1.1)
    .attr('stroke-linejoin', 'round');
});
frame(p2);
xAxis(p2, false);
yAxis(p2, [0, 5, 10, 15, 20]);
yLabel(['Scaled', 'reconstruction error'], [37, 60], 346);
legend(1155, 254, 102, 184, errSeries);

// ---- normalized features panel ----
let p3 = panel('feat', 474, 657.3, [-3, 4.5]);
featSeries.forEach(s => {
  p3.plot.append('path').datum(s.vals)
    .attr('d', d3.line().x((d, i) => x(i * s.step)).y(d => p3.y(d))
      .curve(s.step === 10 ? d3.curveCatmullRom : d3.curveLinear))
    .attr('fill', 'none').attr('stroke', s.color).attr('stroke-width', 1.1)
    .attr('stroke-linejoin', 'round');
});
frame(p3);
xAxis(p3, true);
yAxis(p3, [-2, 0, 2, 4]);
yLabel(['Normalized features'], [59.5], 565.5);
legend(1155, 474, 120, 223, featSeries);

svg.append('text').attr('x', x(375)).attr('y', 709).attr('text-anchor', 'middle')
  .style('font-size', '21px').text('Time (frame)');
</script>
</body>
</html>
